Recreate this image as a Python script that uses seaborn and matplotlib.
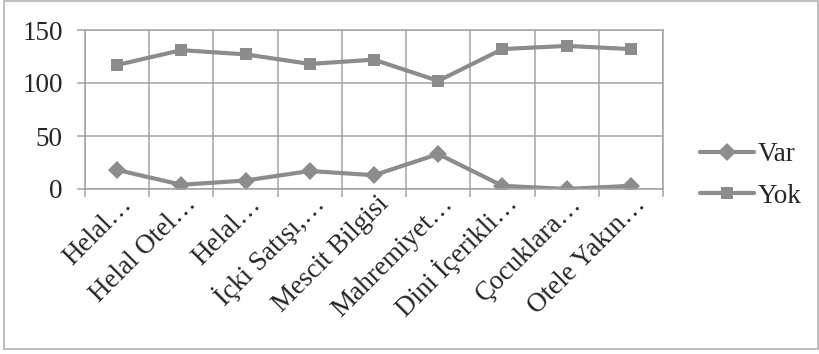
import numpy as np
import pandas as pd
import matplotlib
matplotlib.use("Agg")
import matplotlib.pyplot as plt
import matplotlib.transforms as mtransforms
from matplotlib.patches import Rectangle
from matplotlib.lines import Line2D
import seaborn as sns

categories = ["Helal…", "Helal Otel…", "Helal…", "İçki Satışı,…", "Mescit Bilgisi",
              "Mahremiyet…", "Dini İçerikli…", "Çocuklara…", "Otele Yakın…"]
var_values = [18, 4, 8, 17, 13, 33, 3, 0, 3]
yok_values = [117, 131, 127, 118, 122, 102, 132, 135, 132]
y_ticks = [0, 50, 100, 150]

sns.set_style("white")
plt.rcParams["font.family"] = ["Liberation Serif", "DejaVu Serif"]
plt.rcParams["font.size"] = 19.5

line_col = "#8c8c8c"
grid_col = "#a3a3a3"

pos = np.arange(len(categories))
df = pd.DataFrame({
    "pos": np.concatenate([pos, pos]),
    "value": var_values + yok_values,
    "series": ["Var"] * len(var_values) + ["Yok"] * len(yok_values),
})

fig = plt.figure(figsize=(8.2, 3.54), dpi=100)
ax = fig.add_axes([85 / 820, 1 - 189 / 354, (663 - 85) / 820, (189 - 30) / 354])

sns.lineplot(data=df, x="pos", y="value", hue="series", style="series",
             markers={"Var": "D", "Yok": "s"}, dashes=False,
             palette={"Var": line_col, "Yok": line_col},
             linewidth=3, markeredgewidth=0,
             sort=False, legend=False, ax=ax)
for ln in ax.lines:
    if ln.get_marker() == "s":
        ln.set_markersize(9)
    else:
        ln.set_markersize(9.5)

ax.set_xlim(-0.5, len(categories) - 0.5)
ax.set_ylim(0, 150)
ax.set_yticks(y_ticks)
ax.set_xticks(pos)
ax.set_xticklabels(categories, rotation=45, ha="right", va="baseline",
                   rotation_mode="anchor")
ax.set_xticks(np.arange(len(categories) + 1) - 0.5, minor=True)
ax.set_xlabel("")
ax.set_ylabel("")

ax.tick_params(axis="x", which="major", length=0, pad=11.5)
ax.tick_params(axis="x", which="minor", length=6, width=1.1, color=grid_col, bottom=True)
ax.tick_params(axis="y", length=6, width=1.1, color=grid_col, pad=10, left=True)

offset = mtransforms.ScaledTranslation(0.16, 0, fig.dpi_scale_trans)
for lab in ax.get_xticklabels():
    lab.set_transform(lab.get_transform() + offset)

ax.grid(True, axis="y", which="major", color=grid_col, linewidth=1.1)
ax.grid(True, axis="x", which="minor", color=grid_col, linewidth=1.1)
ax.grid(False, axis="x", which="major")
ax.set_axisbelow(True)
for s in ax.spines.values():
    s.set_color(grid_col)
    s.set_linewidth(1.1)

handles = [
    Line2D([], [], color=line_col, lw=3, marker="D", markersize=9.5, markeredgewidth=0),
    Line2D([], [], color=line_col, lw=3, marker="s", markersize=9, markeredgewidth=0),
]
fig.legend(handles, ["Var", "Yok"], loc="center left",
           bbox_to_anchor=(700 / 820, 1 - 175.5 / 354), frameon=False,
           borderpad=0, borderaxespad=0, handlelength=2.0, handletextpad=0.12,
           labelspacing=0.6)

fig.patches.append(Rectangle((4 / 820, 1 - 349 / 354), 814 / 820, 348 / 354,
                             transform=fig.transFigure, fill=False,
                             edgecolor="#b3b3b3", linewidth=1.2))

fig.savefig("out.png", dpi=100)
